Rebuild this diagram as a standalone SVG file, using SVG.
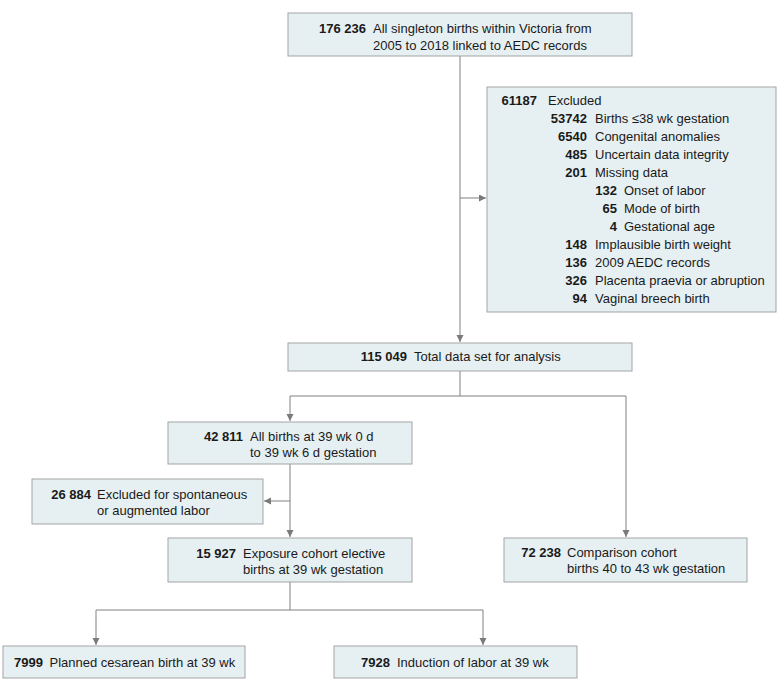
<svg xmlns="http://www.w3.org/2000/svg" width="780" height="681" viewBox="0 0 780 681">
<defs>
<marker id="ah" markerUnits="userSpaceOnUse" markerWidth="8" markerHeight="8" refX="7" refY="3.5" orient="auto">
<path d="M0,0 L7,3.5 L0,7 z" fill="#7a7a7a"/>
</marker>
<style>
.box{fill:#e6f0f2;stroke:#a3a3a3;stroke-width:1}
text{font-family:"Liberation Sans",Arial,sans-serif;font-size:13px;fill:#1a1a1a}
.n{font-weight:bold;text-anchor:end}
.c{fill:none;stroke:#808080;stroke-width:1}
.a{marker-end:url(#ah)}
</style>
</defs>
<rect width="780" height="681" fill="#ffffff"/>
<g id="connectors">
<path class="c a" d="M460,56 V342"/>
<path class="c a" d="M460,198 H486"/>
<path class="c" d="M460,371 V396"/>
<path class="c" d="M290,396 H626"/>
<path class="c a" d="M290,396 V421"/>
<path class="c a" d="M626,396 V537"/>
<path class="c a" d="M290,464 V537"/>
<path class="c a" d="M290,501 H264"/>
<path class="c" d="M290,582 V610"/>
<path class="c" d="M96,610 H483"/>
<path class="c a" d="M96,610 V645"/>
<path class="c a" d="M483,610 V645"/>
</g>
<g id="n_all">
<rect class="box" x="288" y="13" width="344" height="43"/>
<text class="n" x="366" y="33">176 236</text>
<text x="373" y="33">All singleton births within Victoria from</text>
<text x="373" y="49.5">2005 to 2018 linked to AEDC records</text>
</g>
<g id="n_excluded">
<rect class="box" x="487" y="87" width="289" height="225"/>
<text class="n" x="537" y="105">61187</text><text x="548" y="105">Excluded</text>
<text class="n" x="587" y="123">53742</text><text x="595" y="123">Births ≤38 wk gestation</text>
<text class="n" x="587" y="141">6540</text><text x="595" y="141">Congenital anomalies</text>
<text class="n" x="587" y="159">485</text><text x="595" y="159">Uncertain data integrity</text>
<text class="n" x="587" y="177">201</text><text x="595" y="177">Missing data</text>
<text class="n" x="617" y="195">132</text><text x="624" y="195">Onset of labor</text>
<text class="n" x="617" y="213">65</text><text x="624" y="213">Mode of birth</text>
<text class="n" x="617" y="231">4</text><text x="624" y="231">Gestational age</text>
<text class="n" x="587" y="249">148</text><text x="595" y="249">Implausible birth weight</text>
<text class="n" x="587" y="267">136</text><text x="595" y="267">2009 AEDC records</text>
<text class="n" x="587" y="285">326</text><text x="595" y="285">Placenta praevia or abruption</text>
<text class="n" x="587" y="303">94</text><text x="595" y="303">Vaginal breech birth</text>
</g>
<g id="n_total">
<rect class="box" x="288" y="343" width="344" height="28"/>
<text class="n" x="407" y="361">115 049</text>
<text x="414" y="361">Total data set for analysis</text>
</g>
<g id="n_39wk">
<rect class="box" x="168" y="422" width="244" height="42"/>
<text class="n" x="243" y="441">42 811</text>
<text x="250" y="441">All births at 39 wk 0 d</text>
<text x="250" y="457">to 39 wk 6 d gestation</text>
</g>
<g id="n_excl_labor">
<rect class="box" x="32" y="479" width="231" height="45"/>
<text class="n" x="91" y="499">26 884</text>
<text x="97" y="499">Excluded for spontaneous</text>
<text x="97" y="514.5">or augmented labor</text>
</g>
<g id="n_exposure">
<rect class="box" x="168" y="538" width="244" height="44"/>
<text class="n" x="236" y="558">15 927</text>
<text x="243" y="558">Exposure cohort elective</text>
<text x="243" y="573.5">births at 39 wk gestation</text>
</g>
<g id="n_comparison">
<rect class="box" x="504" y="538" width="243" height="44"/>
<text class="n" x="561" y="557">72 238</text>
<text x="567" y="557">Comparison cohort</text>
<text x="567" y="573">births 40 to 43 wk gestation</text>
</g>
<g id="n_cesarean">
<rect class="box" x="3" y="646" width="242" height="32"/>
<text class="n" x="43" y="667">7999</text>
<text x="49.5" y="667">Planned cesarean birth at 39 wk</text>
</g>
<g id="n_induction">
<rect class="box" x="334" y="646" width="243" height="32"/>
<text class="n" x="390" y="667">7928</text>
<text x="397" y="667">Induction of labor at 39 wk</text>
</g>
</svg>
